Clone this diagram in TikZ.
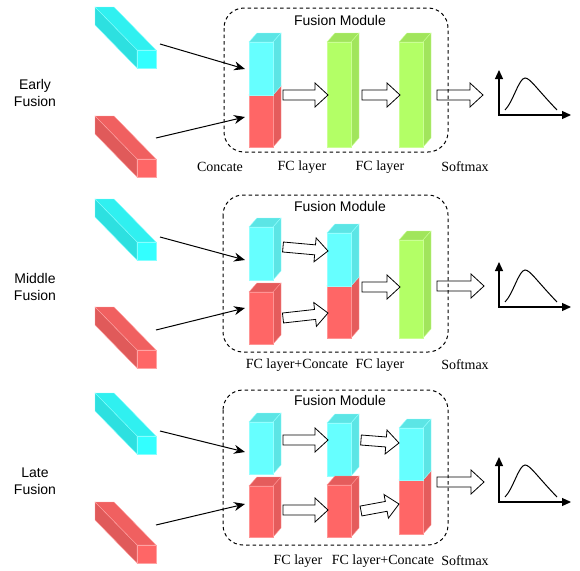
\documentclass[tikz,border=0pt]{standalone}
\usepackage{fontspec}
\setmainfont{Liberation Serif}
\newfontfamily\sansfont{Liberation Sans}
\usetikzlibrary{arrows.meta,calc}

\definecolor{cyanf}{HTML}{66FFFF}
\definecolor{redf}{HTML}{FF6666}
\definecolor{greenf}{HTML}{B3FF66}
\definecolor{barcyan}{HTML}{33FFFF}

\tikzset{
  modulebox/.style={draw, dash pattern=on 3.5pt off 3pt, rounded corners=20pt, line width=1pt},
  feed/.style={line width=1pt, -{Stealth[length=11pt,width=9pt]}},
  flowarrow/.style={draw, fill=white, line width=0.8pt, line join=miter},
  axes/.style={line width=1.2pt, {Triangle[length=9pt,width=8pt]}-{Triangle[length=9pt,width=8pt]}},
  modtitle/.style={font=\sansfont\fontsize{14}{16}\selectfont},
  layername/.style={font=\fontsize{14}{16}\selectfont},
  rowname/.style={font=\sansfont\fontsize{14}{17}\selectfont, align=center},
}

% input feature bar: top y, colour
\newcommand{\inbar}[2]{%
  \filldraw[draw=#2!60!white, line width=0.4pt, fill=#2!94!black] (95,#1) -- (114,#1) -- (156,#1+43) -- (137,#1+43) -- cycle;
  \filldraw[draw=#2!60!white, line width=0.4pt, fill=#2!88!black] (95,#1) -- (137,#1+43) -- (137,#1+61) -- (95,#1+18) -- cycle;
  \filldraw[draw=#2!60!white, line width=0.4pt, fill=#2] (137,#1+43) rectangle (156,#1+61);
}
% layer block: x, top, bottom, colour
\newcommand{\cube}[4]{%
  \filldraw[draw=#4!70!white, line width=0.4pt, fill=#4!90!black] (#1,#2) -- ++(8,-9) -- ++(24,0) -- ++(-8,9) -- cycle;
  \filldraw[draw=#4!70!white, line width=0.4pt, fill=#4!90!black] (#1+24,#2) -- ++(8,-9) -- (#1+32,#3-9) -- (#1+24,#3) -- cycle;
  \filldraw[draw=#4!70!white, line width=0.4pt, fill=#4] (#1,#2) rectangle (#1+24,#3);
}
% hollow block arrow between two coordinates
\newcommand{\flow}[2]{%
  \coordinate (fh) at ($(#2)!13pt!(#1)$);
  \path[flowarrow] ($(#1)!5pt!90:(#2)$) -- ($(fh)!5pt!90:(#2)$) -- ($(fh)!12pt!90:(#2)$) -- (#2)
    -- ($(fh)!12pt!-90:(#2)$) -- ($(fh)!5pt!-90:(#2)$) -- ($(#1)!5pt!-90:(#2)$) -- cycle;
}
% softmax output plot: name, axis y
\newcommand{\softplot}[2]{%
  \coordinate (#1o) at (499,#2);
  \coordinate (#1y) at (499,#2-45);
  \coordinate (#1x) at (571,#2);
  \draw[axes] (#1y) -- (#1o) -- (#1x);
  \draw[line width=1pt] (505,#2-5) .. controls (513,#2-13) and (519,#2-37) .. (525,#2-37)
    .. controls (530,#2-37) and (536,#2-27) .. (557,#2-5);
}

\begin{document}
\begin{tikzpicture}[x=1pt,y=-1pt]
  \useasboundingbox (0,0) rectangle (580,570);

  % early fusion
  \node[rowname] (early) at (35,93) {Early\\Fusion};
  \inbar{7}{barcyan}
  \inbar{116}{redf}
  \cube{249}{95}{147}{redf}
  \cube{249}{42}{95}{cyanf}
  \cube{327}{42}{147}{greenf}
  \cube{399}{42}{147}{greenf}
  \coordinate (ec0) at (160,44);  \coordinate (ec1) at (245,69);
  \coordinate (er0) at (156,138); \coordinate (er1) at (245,117);
  \draw[feed] (ec0) -- (ec1);
  \draw[feed] (er0) -- (er1);
  \coordinate (ea0) at (283,95); \coordinate (ea1) at (328,95);
  \coordinate (eb0) at (362,95); \coordinate (eb1) at (400,95);
  \coordinate (es0) at (437,95); \coordinate (es1) at (483,95);
  \flow{ea0}{ea1}
  \flow{eb0}{eb1}
  \flow{es0}{es1}
  \softplot{e}{115}
  \draw[modulebox] (224,8) rectangle (448,152);
  \node[modtitle] (etitle) at (340,20) {Fusion Module};
  \node[layername] (econcat) at (220,167) {Concate};
  \node[layername] (efc1) at (302,167) {FC layer};
  \node[layername] (efc2) at (380,167) {FC layer};
  \node[layername] (esoft) at (465,167) {Softmax};

  % middle fusion
  \node[rowname] (middle) at (35,287) {Middle\\Fusion};
  \inbar{199}{barcyan}
  \inbar{307}{redf}
  \cube{249}{227}{280}{cyanf}
  \cube{249}{292}{344}{redf}
  \cube{327}{286}{338}{redf}
  \cube{327}{233}{286}{cyanf}
  \cube{399}{240}{338}{greenf}
  \coordinate (mc0) at (160,237); \coordinate (mc1) at (245,260);
  \coordinate (mr0) at (156,330); \coordinate (mr1) at (245,308);
  \draw[feed] (mc0) -- (mc1);
  \draw[feed] (mr0) -- (mr1);
  \coordinate (ma0) at (283,247); \coordinate (ma1) at (328,251);
  \coordinate (mb0) at (283,318); \coordinate (mb1) at (328,313);
  \coordinate (mf0) at (362,287); \coordinate (mf1) at (400,287);
  \coordinate (ms0) at (437,286); \coordinate (ms1) at (484,286);
  \flow{ma0}{ma1}
  \flow{mb0}{mb1}
  \flow{mf0}{mf1}
  \flow{ms0}{ms1}
  \softplot{m}{307}
  \draw[modulebox] (223,195) rectangle (448,352);
  \node[modtitle] (mtitle) at (340,206) {Fusion Module};
  \node[layername] (mconcat) at (297,365) {FC layer+Concate};
  \node[layername] (mfc) at (380,365) {FC layer};
  \node[layername] (msoft) at (465,365) {Softmax};

  % late fusion
  \node[rowname] (late) at (35,481) {Late\\Fusion};
  \inbar{393}{barcyan}
  \inbar{502}{redf}
  \cube{249}{422}{474}{cyanf}
  \cube{249}{486}{537}{redf}
  \cube{327}{423}{476}{cyanf}
  \cube{327}{485}{537}{redf}
  \cube{399}{480}{534}{redf}
  \cube{399}{428}{480}{cyanf}
  \coordinate (lc0) at (160,431); \coordinate (lc1) at (245,452);
  \coordinate (lr0) at (156,525); \coordinate (lr1) at (245,504);
  \draw[feed] (lc0) -- (lc1);
  \draw[feed] (lr0) -- (lr1);
  \coordinate (la0) at (283,440); \coordinate (la1) at (328,440);
  \coordinate (lb0) at (283,510); \coordinate (lb1) at (328,510);
  \coordinate (lp0) at (361,440); \coordinate (lp1) at (399,443);
  \coordinate (lq0) at (361,511); \coordinate (lq1) at (399,504);
  \coordinate (ls0) at (437,482); \coordinate (ls1) at (484,482);
  \flow{la0}{la1}
  \flow{lb0}{lb1}
  \flow{lp0}{lp1}
  \flow{lq0}{lq1}
  \flow{ls0}{ls1}
  \softplot{l}{502}
  \draw[modulebox] (223,390) rectangle (448,545);
  \node[modtitle] (ltitle) at (340,400) {Fusion Module};
  \node[layername] (lfc1) at (298,561) {FC layer};
  \node[layername] (lconcat) at (383,561) {FC layer+Concate};
  \node[layername] (lsoft) at (465,561) {Softmax};
\end{tikzpicture}
\end{document}
